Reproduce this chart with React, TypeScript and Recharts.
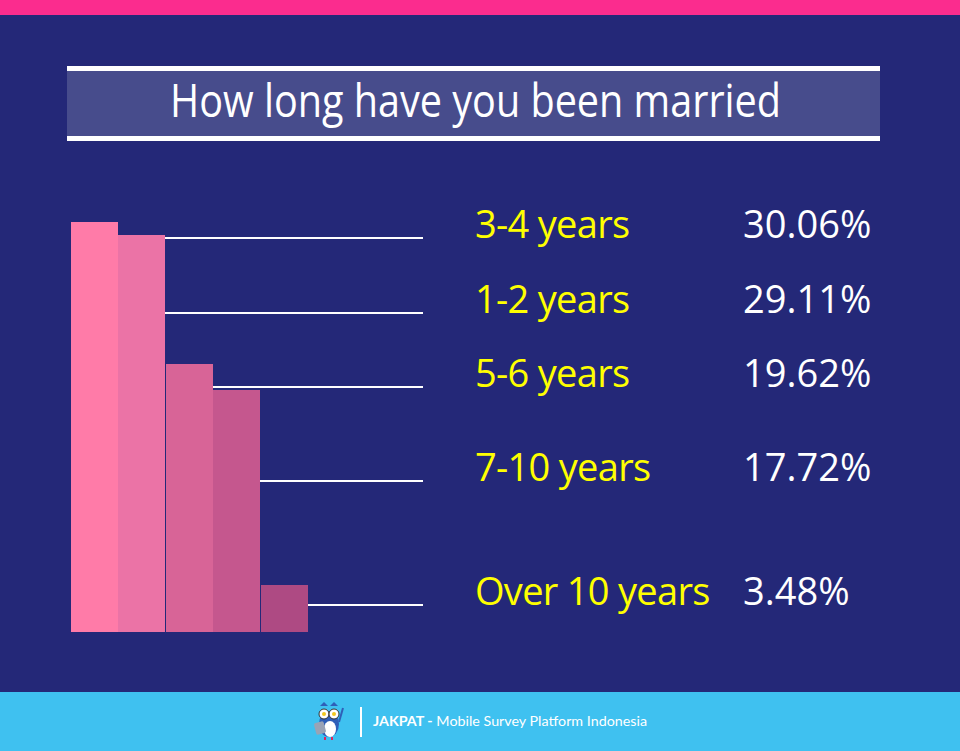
import React from "react";
import { BarChart, Bar, XAxis, YAxis, Cell } from "recharts";

// ---- data ----
const categories = ["3-4 years", "1-2 years", "5-6 years", "7-10 years", "Over 10 years"];
const shares = [30.06, 29.11, 19.62, 17.72, 3.48];
const shareLabels = ["30.06%", "29.11%", "19.62%", "17.72%", "3.48%"];

// ---- layout / style constants ----
const W = 960;
const H = 751;
const BG = "#242878";
const barColors = ["#FF7BA8", "#EB73A6", "#D86497", "#C5578E", "#AE4A83"];
const rowBaselines = [238, 313, 387, 481, 605];
const LINE_END = 423;
const LABEL_X = 475;
const PCT_X = 743;
const FONT = "'Open Sans', 'Noto Sans', sans-serif";

const tableData = categories.map((name, i) => ({ name, value: shares[i], label: shareLabels[i] }));

const RowShape = (props: any) => {
  const { x, y, width, height, index, payload } = props;
  const i = typeof index === "number" ? index : categories.indexOf(payload?.name);
  const ly = rowBaselines[i];
  const x0 = Math.round(x);
  const x1 = Math.round(x + width);
  const y0 = Math.round(y);
  const y1 = Math.round(y + height);
  return (
    <g>
      <rect x={x0} y={y0} width={x1 - x0} height={y1 - y0} fill={barColors[i]} shapeRendering="crispEdges" />
      <line x1={x1} x2={LINE_END} y1={ly} y2={ly} stroke="#FFFFFF" strokeWidth={2} shapeRendering="crispEdges" />
      <text x={LABEL_X} y={ly} fill="#FFFF00" fontFamily={FONT} fontSize={38} letterSpacing={-0.7}>
        {categories[i]}
      </text>
      <text x={PCT_X} y={ly} fill="#FFFFFF" fontFamily={FONT} fontSize={38}>
        {shareLabels[i]}
      </text>
    </g>
  );
};

const Owl = () => (
  <g>
    <ellipse cx={329} cy={724} rx={10} ry={13} fill="#2F5FB8" />
    <ellipse cx={330} cy={729} rx={6} ry={8} fill="#FFFFFF" />
    <circle cx={324} cy={714} r={5} fill="#FFFFFF" stroke="#333" strokeWidth={1} />
    <circle cx={334} cy={714} r={5} fill="#FFFFFF" stroke="#333" strokeWidth={1} />
    <circle cx={324} cy={714} r={2} fill="#F2C81E" />
    <circle cx={334} cy={714} r={2} fill="#F2C81E" />
    <path d="M320 706 L324 702 L328 706 Z" fill="#2F5FB8" />
    <path d="M330 706 L334 702 L338 706 Z" fill="#2F5FB8" />
    <rect x={315} y={722} width={10} height={12} rx={2} fill="#9AA3B5" transform="rotate(-15 320 728)" />
    <line x1={339} y1={722} x2={343} y2={708} stroke="#2F5FB8" strokeWidth={2} />
    <rect x={324} y={737} width={2} height={3} fill="#E0245E" />
    <rect x={331} y={737} width={2} height={3} fill="#E0245E" />
  </g>
);

export default function App() {
  return (
    <div style={{ position: "absolute", left: 0, top: 0, width: W, height: H, background: BG, overflow: "hidden" }}>
      <svg width={W} height={H} style={{ position: "absolute", left: 0, top: 0 }}>
        <rect x={0} y={0} width={W} height={15} fill="#FB2C8E" />
        <rect x={67} y={66} width={813} height={5} fill="#FFFFFF" />
        <rect x={67} y={71} width={813} height={65} fill="#474C8C" />
        <rect x={67} y={136} width={813} height={5} fill="#FFFFFF" />
        <text
          x={170}
          y={117}
          fill="#FFFFFF"
          fontFamily={FONT}
          fontSize={46}
          fontWeight={500}
          textLength={611}
          lengthAdjust="spacingAndGlyphs"
        >
          How long have you been married
        </text>
        <rect x={0} y={692} width={W} height={H - 692} fill="#3FC1F0" />
        <Owl />
        <rect x={360} y={707} width={2} height={30} fill="#FFFFFF" />
        <text
          x={373}
          y={726}
          fill="#FFFFFF"
          fontFamily="Lato, 'Open Sans', sans-serif"
          fontSize={14}
          textLength={274}
          lengthAdjust="spacingAndGlyphs"
        >
          <tspan fontWeight="bold">JAKPAT -</tspan>
          <tspan> Mobile Survey Platform Indonesia</tspan>
        </text>
      </svg>
      <div style={{ position: "absolute", left: 0, top: 0 }}>
        <BarChart
          width={W}
          height={H}
          data={tableData}
          margin={{ top: 222, right: W - 308, bottom: H - 632, left: 71 }}
          barCategoryGap={0}
          barGap={0}
        >
          <XAxis dataKey="name" hide />
          <YAxis hide domain={[0, "dataMax"]} />
          <Bar dataKey="value" isAnimationActive={false} shape={RowShape}>
            {tableData.map((d, i) => (
              <Cell key={d.name} fill={barColors[i]} />
            ))}
          </Bar>
        </BarChart>
      </div>
    </div>
  );
}
